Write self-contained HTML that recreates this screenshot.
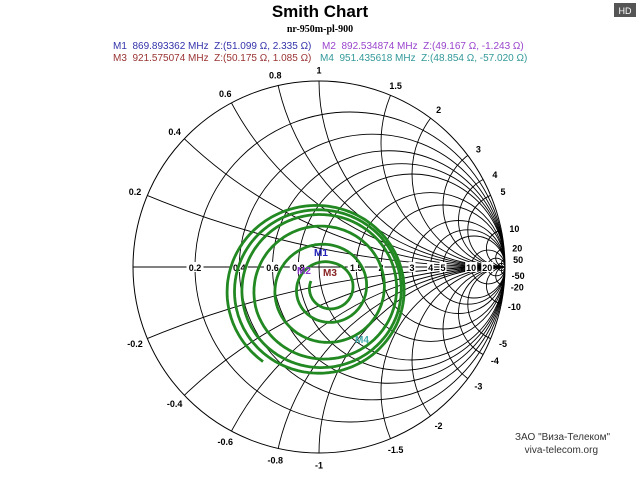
<!DOCTYPE html>
<html><head><meta charset="utf-8"><style>
body{margin:0;background:#fff;width:640px;height:480px;overflow:hidden;font-family:"Liberation Sans",sans-serif}
svg{display:block}
</style></head><body>
<svg id="s" width="640" height="480" xmlns="http://www.w3.org/2000/svg" font-family="Liberation Sans, sans-serif">
<rect x="614" y="3" width="22" height="14" fill="#555"/>
<text x="625" y="14" font-size="9" fill="#fff" text-anchor="middle">HD</text>
<text x="320" y="17" font-size="17" font-weight="bold" text-anchor="middle">Smith Chart</text>
<text x="320" y="32" font-size="10" font-weight="bold" font-family="Liberation Serif, serif" text-anchor="middle">nr-950m-pl-900</text>
<text x="113" y="49" font-size="10" fill="#3333aa" xml:space="preserve">M1  869.893362 MHz  Z:(51.099 Ω, 2.335 Ω)</text>
<text x="322" y="49" font-size="10" fill="#9944cc" xml:space="preserve">M2  892.534874 MHz  Z:(49.167 Ω, -1.243 Ω)</text>
<text x="113" y="61" font-size="10" fill="#993333" xml:space="preserve">M3  921.575074 MHz  Z:(50.175 Ω, 1.085 Ω)</text>
<text x="320" y="61" font-size="10" fill="#339999" xml:space="preserve">M4  951.435618 MHz  Z:(48.854 Ω, -57.020 Ω)</text>
<defs><clipPath id="c"><circle cx="319" cy="267" r="186"/></clipPath></defs>
<g id="g" clip-path="url(#c)" fill="none" stroke="#000" stroke-width="0.9"></g>
<circle cx="319" cy="267" r="186" fill="none" stroke="#000" stroke-width="1"/>
<g id="lab" font-size="9" font-weight="bold"></g>
<path id="sp" fill="none" stroke="#228822" stroke-width="2.8"/>
<g font-size="10" font-weight="bold">
<text x="314" y="256" fill="#2222bb">M1</text>
<text x="297" y="274" fill="#8833cc">M2</text>
<text x="323" y="276" fill="#882222">M3</text>
<text x="355" y="343" fill="#44aaaa">M4</text>
</g>
<text x="610" y="440" font-size="10" fill="#333" text-anchor="end">ЗАО "Виза-Телеком"</text>
<text x="598" y="453" font-size="10" fill="#333" text-anchor="end">viva-telecom.org</text>
</svg>
<script>
var NS="http://www.w3.org/2000/svg",cx=319,cy=267,R=186;
var g=document.getElementById('g'),lab=document.getElementById('lab');
function el(p,t,a){var e=document.createElementNS(NS,t);for(var k in a)e.setAttribute(k,a[k]);p.appendChild(e);return e}
var vals=[0.2,0.4,0.6,0.8,1,1.5,2,3,4,5,10,20,50];
el(g,'line',{x1:cx-R,y1:cy,x2:cx+R,y2:cy,stroke:'#000'});
vals.forEach(function(r){var c=r/(1+r),rr=1/(1+r);
 el(g,'circle',{cx:cx+R*c,cy:cy,r:R*rr});});
vals.forEach(function(x){[1,-1].forEach(function(s){var xx=x*s;
 el(g,'circle',{cx:cx+R,cy:cy-R/xx,r:R/x});
 var d=xx*xx+1,u=(xx*xx-1)/d,v=2*xx/d;
 var t=el(lab,'text',{x:cx+R*1.05*u+4*u,y:cy-R*1.05*v+4-2*v,'text-anchor':'middle',fill:'#000'});t.textContent=(s<0?'-':'')+x;});});
[0.2,0.4,0.6,0.8,1.5,2,3,4,5,10,20].forEach(function(r){var u=(r-1)/(r+1),X=cx+R*u;
 var w=(''+r).length*5+2;
 el(lab,'rect',{x:X-w/2,y:cy-5,width:w,height:10,fill:'#fff'});
 var t=el(lab,'text',{x:X,y:cy+4,'text-anchor':'middle',fill:'#000'});t.textContent=r;});
var p='',N=1500,turns=6.2;
var rads=[90,86,82,78,70,56,40,26,20];
for(var i=0;i<=N;i++){var t=i/N,a=t*Math.PI*2*turns+2.2;
 var f=t*(rads.length-1),k=Math.min(Math.floor(f),rads.length-2),fr=f-k;
 var rad=rads[k]*(1-fr)+rads[k+1]*fr;
 var ox=316+14*t,oy=291-4*t;
 var X=ox+rad*Math.cos(a),Y=oy+rad*0.97*Math.sin(a);
 p+=(i?'L':'M')+X.toFixed(1)+' '+Y.toFixed(1);}
document.getElementById('sp').setAttribute('d',p);
</script>
</body></html>
